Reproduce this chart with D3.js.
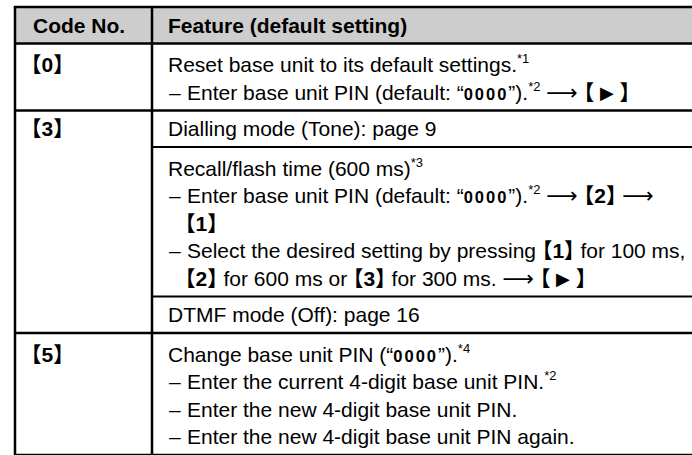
<!DOCTYPE html>
<html><head><meta charset="utf-8">
<script src="https://cdn.jsdelivr.net/npm/d3@7"></script>
<style>
body{margin:0;background:#fff}
svg{display:block}
text{white-space:pre}
.br{font-feature-settings:"halt" 1}
</style></head><body>
<script>
// ---- DATA ----
const headers = ["Code No.", "Feature (default setting)"];
const codes = ["0", "3", "5"];
// which code each feature cell belongs to
const cellCode = [0, 1, 1, 1, 2];
// kind of each line: "first" (plain line), "dash" (– bullet), "cont" (continuation of bullet)
const featureKinds = [
  ["first", "dash"],
  ["first"],
  ["first", "dash", "cont", "dash", "cont"],
  ["first"],
  ["first", "dash", "dash", "dash"]
];
const featureTexts = [
  ["Reset base unit to its default settings.<sup:*1>",
   "Enter base unit PIN (default: “<lcd:0000>”).<sup:*2> <arrow> <key:▶>"],
  ["Dialling mode (Tone): page 9"],
  ["Recall/flash time (600 ms)<sup:*3>",
   "Enter base unit PIN (default: “<lcd:0000>”).<sup:*2> <arrow> <key:2> <arrow>",
   "<key:1>",
   "Select the desired setting by pressing <key:1> for 100 ms,",
   "<key:2> for 600 ms or <key:3> for 300 ms. <arrow> <key:▶>"],
  ["DTMF mode (Off): page 16"],
  ["Change base unit PIN (“<lcd:0000>”).<sup:*4>",
   "Enter the current 4-digit base unit PIN.<sup:*2>",
   "Enter the new 4-digit base unit PIN.",
   "Enter the new 4-digit base unit PIN again."]
];

// ---- LAYOUT ----
const W = 692, H = 455;
const FS = 21, LH = 27.5, PAD = 4.5, SUPX = 3;
const X0 = 15, XDIV = 152, XR = 720;
const TOP = 7;
const CODE_X = 33, FEAT_X = 168, INDENT_X = 187;
const FONT = "'Liberation Sans', Arial, Helvetica, sans-serif";
const CJK = "'Noto Sans CJK JP', 'Noto Sans CJK SC', sans-serif";

const svg = d3.select("body").append("svg").attr("width", W).attr("height", H);

function hasSup(s){ return /<sup:/.test(s); }
function cellHeight(lines){ return 2*PAD + lines.length*LH + (hasSup(lines[0]) ? SUPX : 0); }

const headerH = 2*PAD + LH;
const cellTops = [];
let y = TOP + headerH;
featureTexts.forEach(lines => { cellTops.push(y); y += cellHeight(lines); });
const tableBottom = y;

svg.append("rect").attr("x", X0).attr("y", TOP).attr("width", XR - X0).attr("height", headerH)
  .attr("fill", "#cdcdcd");

function renderRich(x, yb, str, bold){
  const t = svg.append("text").attr("x", x).attr("y", yb)
    .attr("font-family", FONT).attr("font-size", FS).attr("fill", "#000")
    .attr("font-weight", bold ? "bold" : "normal");
  const re = /<(\w+)(?::([^>]*))?>/g;
  let last = 0, m, pendDy = 0;
  function add(txt, attrs, cls){
    const s = t.append("tspan").text(txt);
    if (cls) s.attr("class", cls);
    if (pendDy) { s.attr("dy", pendDy); pendDy = 0; }
    if (attrs) Object.entries(attrs).forEach(([k,v]) => {
      if (k === "dy") s.attr("dy", (+s.attr("dy") || 0) + v); else s.attr(k, v);
    });
    return s;
  }
  while ((m = re.exec(str)) !== null) {
    if (m.index > last) add(str.slice(last, m.index));
    const tag = m[1], val = m[2];
    if (tag === "sup") {
      add(val, {"font-size": 13, dy: -9});
      pendDy = 9;
    } else if (tag === "lcd") {
      add(val, {"font-family": FONT, "font-size": 16.5, "font-weight": "bold", "letter-spacing": 2});
    } else if (tag === "arrow") {
      add("⟶", {"font-family": "'DejaVu Sans', sans-serif", "font-size": 22});
    } else if (tag === "key") {
      add("【", {"font-family": CJK, "font-weight": "bold", "font-size": FS}, "br");
      if (val === "▶") {
        add(" ▶ ", {"font-family": "'DejaVu Sans', sans-serif", "font-size": 18, "font-weight": "normal", dy: -1});
        pendDy = 1;
      } else add(val, {"font-weight": "bold"});
      add("】", {"font-family": CJK, "font-weight": "bold", "font-size": FS}, "br");
    }
    last = re.lastIndex;
  }
  if (last < str.length) add(str.slice(last));
  return t;
}

// header text
const headerBase = TOP + PAD + LH/2 + 0.35*FS;
renderRich(CODE_X, headerBase, headers[0], true);
renderRich(FEAT_X, headerBase, headers[1], true);

// feature cells
featureTexts.forEach((lines, i) => {
  const top = cellTops[i] + PAD + (hasSup(lines[0]) ? SUPX : 0);
  lines.forEach((ln, j) => {
    const yb = top + j*LH + LH/2 + 0.35*FS;
    const kind = featureKinds[i][j];
    if (kind === "dash") {
      svg.append("text").attr("x", FEAT_X + 1).attr("y", yb).attr("font-family", FONT)
        .attr("font-size", FS).text("–");
      renderRich(INDENT_X, yb, ln, false);
    } else if (kind === "cont") {
      renderRich(INDENT_X - 2, yb, ln, false);
    } else {
      renderRich(FEAT_X, yb, ln, false);
    }
  });
});

// code cells
codes.forEach((c, k) => {
  const i = cellCode.indexOf(k);
  const top = cellTops[i] + PAD + (hasSup(featureTexts[i][0]) ? SUPX : 0);
  const yb = top + LH/2 + 0.35*FS;
  renderRich(CODE_X - 2, yb, "<key:" + c + ">", true);
});

// borders
const g = svg.append("g").attr("stroke", "#000").attr("fill", "none");
const hl = (x1, x2, yy, w) => g.append("line").attr("x1", x1).attr("x2", x2).attr("y1", yy).attr("y2", yy).attr("stroke-width", w);
hl(X0 - 1.25, XR, TOP, 2.5);
hl(X0, XR, TOP + headerH, 2.5);
cellTops.forEach((ct, i) => {
  if (i === 0) return;
  const newGroup = cellCode[i] !== cellCode[i-1];
  hl(newGroup ? X0 : XDIV, XR, ct, newGroup ? 2.5 : 2.2);
});
hl(X0, XR, tableBottom, 2.5);
[X0, XDIV].forEach(xx => g.append("line").attr("x1", xx).attr("x2", xx)
  .attr("y1", TOP).attr("y2", tableBottom + 1.25).attr("stroke-width", 2.5));
</script>
</body></html>
